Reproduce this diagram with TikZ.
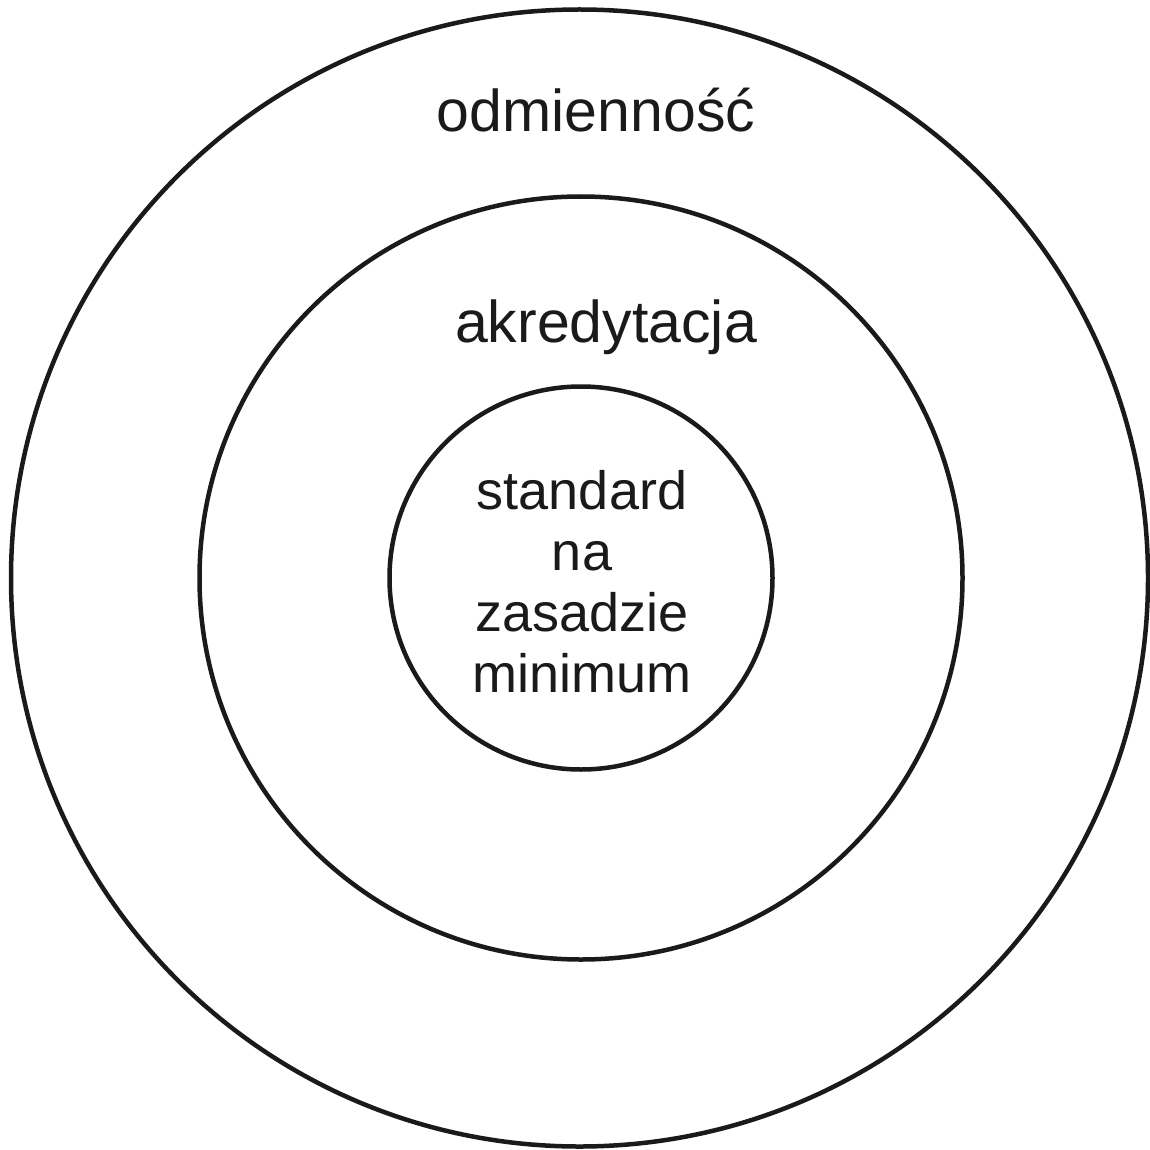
\documentclass[tikz,border=0pt]{standalone}
\usepackage{fontspec}
\setmainfont{Liberation Sans}
\definecolor{ink}{HTML}{1A1A1A}
\begin{document}
\begin{tikzpicture}[x=1pt,y=-1pt,
  ring/.style={circle,draw=ink,line width=4.5pt,inner sep=0pt},
  big/.style={font=\fontsize{59}{61}\selectfont,text=ink,anchor=base,inner sep=0pt},
  small/.style={font=\fontsize{54}{61}\selectfont,text=ink,anchor=base,inner sep=0pt}]
\useasboundingbox[fill=white] (0,0) rectangle (1149,1150);
\node[ring,minimum size=1137pt] (outer) at (579.5,578) {};
\node[ring,minimum size=763pt] (middle) at (581,578) {};
\node[ring,minimum size=383pt] (inner) at (581,578) {};
\node[big] (odm) at (596,132) {odmienność};
\node[big] (akr) at (606,342) {akredytacja};
\node[small] (l1) at (582,509) {standard};
\node[small] (l2) at (582,570) {na};
\node[small] (l3) at (582,631) {zasadzie};
\node[small] (l4) at (582,692) {minimum};
\end{tikzpicture}
\end{document}
